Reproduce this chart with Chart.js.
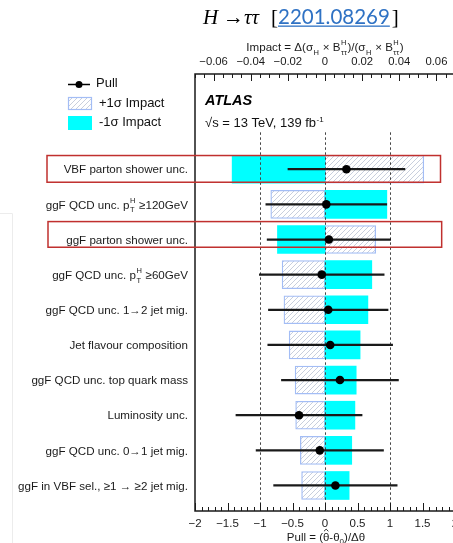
<!DOCTYPE html>
<html>
<head>
<meta charset="utf-8">
<style>
  html, body { margin: 0; padding: 0; background: #fff; overflow: hidden; width: 453px; height: 543px; }
  canvas { display: block; }
</style>
<script src="https://cdn.jsdelivr.net/npm/chart.js@4/dist/chart.umd.min.js"></script>
</head>
<body>
<canvas id="rank" width="480" height="543"></canvas>
<script>
// Nuisance parameters, ranked from the top of the plot downwards.
// "_{..}^{..}" marks a subscript / superscript pair in a label.
const categories = [
  'VBF parton shower unc.',
  'ggF QCD unc. p_{T}^{H} ≥120GeV',
  'ggF parton shower unc.',
  'ggF QCD unc. p_{T}^{H} ≥60GeV',
  'ggF QCD unc. 1→2 jet mig.',
  'Jet flavour composition',
  'ggF QCD unc. top quark mass',
  'Luminosity unc.',
  'ggF QCD unc. 0→1 jet mig.',
  'ggF in VBF sel., ≥1 → ≥2 jet mig.'
];

// Pull (θ̂-θ0)/Δθ and its uncertainty
const pull    = [0.33, 0.02, 0.06, -0.05, 0.05, 0.08, 0.23, -0.40, -0.08, 0.16];
const pullErr = [0.90, 0.93, 0.95, 0.96, 0.92, 0.96, 0.90, 0.97, 0.98, 0.95];

// Impact on σ_H × B(H→ττ) for +1σ and -1σ variations
const impactUp   = [0.0532, -0.0292, 0.0273, -0.0231, -0.0221, -0.0193, -0.0161, -0.0158, -0.0133, -0.0126];
const impactDown = [-0.0500, 0.0333, -0.0256, 0.0252, 0.0231, 0.0189, 0.0168, 0.0161, 0.0144, 0.0130];

// Axis ticks
const pullTicks = [-2, -1.5, -1, -0.5, 0, 0.5, 1, 1.5, 2];
const pullTickLabels = ['\u22122', '\u22121.5', '\u22121', '\u22120.5', '0', '0.5', '1', '1.5', '2'];
const impactTicks = [-0.06, -0.04, -0.02, 0, 0.02, 0.04, 0.06];
const impactTickLabels = ['\u22120.06', '\u22120.04', '\u22120.02', '0', '0.02', '0.04', '0.06'];

// Rows boxed in red
const highlighted = ['VBF parton shower unc.', 'ggF parton shower unc.'];

const SANS = '"Liberation Sans", Arial, Helvetica, sans-serif';
const SERIF = '"Liberation Serif", "Times New Roman", serif';
Chart.defaults.font.family = SANS;

const rowOf = i => categories.length - 1 - i;

// Diagonal hatch for the +1σ impact boxes
function makeHatch() {
  const s = 5;
  const c = document.createElement('canvas');
  c.width = s; c.height = s;
  const g = c.getContext('2d');
  g.fillStyle = '#ffffff';
  g.fillRect(0, 0, s, s);
  g.strokeStyle = '#c8cfdd';
  g.lineWidth = 1;
  g.beginPath();
  g.moveTo(0, s); g.lineTo(s, 0);
  g.moveTo(-1, 1); g.lineTo(1, -1);
  g.moveTo(s - 1, s + 1); g.lineTo(s + 1, s - 1);
  g.stroke();
  return g.createPattern(c, 'repeat');
}
const hatch = makeHatch();
const HATCH_BORDER = '#a3bdf5';
const CYAN = '#00ffff';

// Text with sub/superscripts
function richTokens(s) {
  const re = /_\{([^}]*)\}(?:\^\{([^}]*)\})?|\^\{([^}]*)\}/g;
  const out = []; let last = 0, m;
  while ((m = re.exec(s))) {
    if (m.index > last) out.push({ text: s.slice(last, m.index) });
    if (m[1] !== undefined) out.push({ sub: m[1], sup: m[2] });
    else out.push({ sup: m[3] });
    last = re.lastIndex;
  }
  if (last < s.length) out.push({ text: s.slice(last) });
  return out;
}
function drawRich(ctx, s, x, y, o) {
  const size = o.size, small = o.small || size * 0.68;
  const fam = o.family || SANS;
  const main = `${o.style || 'normal'} ${o.weight || 'normal'} ${size}px ${fam}`;
  const sm = `${o.style || 'normal'} ${o.weight || 'normal'} ${small}px ${fam}`;
  const toks = richTokens(s);
  let w = 0;
  toks.forEach(t => {
    if (t.text !== undefined) { ctx.font = main; t.w = ctx.measureText(t.text).width; }
    else {
      ctx.font = sm;
      t.w = Math.max(t.sub ? ctx.measureText(t.sub).width : 0, t.sup ? ctx.measureText(t.sup).width : 0) + 1;
    }
    w += t.w;
  });
  let cx = o.align === 'right' ? x - w : o.align === 'center' ? x - w / 2 : x;
  ctx.fillStyle = o.color || '#111';
  ctx.textAlign = 'left';
  ctx.textBaseline = 'alphabetic';
  const base = y + size * 0.36;
  toks.forEach(t => {
    if (t.text !== undefined) { ctx.font = main; ctx.fillText(t.text, cx, base); }
    else {
      ctx.font = sm;
      if (t.sup) ctx.fillText(t.sup, cx + 0.5, base - size * (t.sub ? 0.5 : 0.42));
      if (t.sub) ctx.fillText(t.sub, cx + 0.5, base + size * 0.32);
    }
    cx += t.w;
  });
  return w;
}

const decor = {
  id: 'decor',
  beforeDatasetDraw(chart, args) {
    // dashed guides at pull = -1, 0, 1, above the impact boxes
    if (args.meta.label !== 'Pull error') return;
    const { ctx, chartArea, scales } = chart;
    const yTop = scales.y.getPixelForValue(categories.length + 0.05);
    ctx.save();
    ctx.strokeStyle = '#444';
    ctx.lineWidth = 1;
    ctx.setLineDash([2.5, 2.5]);
    [-1, 0, 1].forEach(v => {
      const px = Math.round(scales.x.getPixelForValue(v)) + 0.5;
      ctx.beginPath();
      ctx.moveTo(px, yTop);
      ctx.lineTo(px, chartArea.bottom);
      ctx.stroke();
    });
    ctx.restore();
  },
  afterDraw(chart) {
    const { ctx, chartArea: a, scales } = chart;
    const xs = scales.x, x2 = scales.x2, ys = scales.y;
    ctx.save();

    // faint edge of a neighbouring panel
    ctx.strokeStyle = '#ececec';
    ctx.lineWidth = 1;
    ctx.beginPath();
    ctx.moveTo(0, 213.5); ctx.lineTo(12.5, 213.5); ctx.lineTo(12.5, 543);
    ctx.stroke();

    // frame
    ctx.strokeStyle = '#1a1a1a';
    ctx.lineWidth = 1.5;
    ctx.beginPath();
    ctx.moveTo(a.right + 2, a.top); ctx.lineTo(a.left, a.top);
    ctx.lineTo(a.left, a.bottom); ctx.lineTo(a.right + 2, a.bottom);
    ctx.stroke();

    // inward tick marks
    ctx.lineWidth = 1;
    ctx.beginPath();
    for (let k = -20; k <= 20; k++) {
      const v = k / 10;
      const px = Math.round(xs.getPixelForValue(v)) + 0.5;
      const len = (k % 5 === 0) ? 8 : 4;
      ctx.moveTo(px, a.bottom); ctx.lineTo(px, a.bottom - len);
    }
    for (let k = -14; k <= 14; k++) {
      const v = k * 0.005;
      const px = Math.round(x2.getPixelForValue(v)) + 0.5;
      const len = (k % 4 === 0) ? 7 : 4;
      ctx.moveTo(px, a.top); ctx.lineTo(px, a.top + len);
    }
    ctx.stroke();

    // category labels
    categories.forEach((c, i) => {
      drawRich(ctx, c, a.left - 7, ys.getPixelForValue(rowOf(i)), { size: 11.6, small: 7.5, align: 'right', color: '#1a1a1a' });
    });

    // axis titles
    const xc = xs.getPixelForValue(0);
    drawRich(ctx, 'Impact = \u0394(\u03c3_{H} \u00d7 B_{\u03c4\u03c4}^{H})/(\u03c3_{H} \u00d7 B_{\u03c4\u03c4}^{H})', xc, 47, { size: 11.6, small: 7.5, align: 'center', color: '#1a1a1a' });

    // Pull = (θ̂-θ0)/Δθ
    {
      const size = 11.5, y = 537 + size * 0.36;
      const f = `${size}px ${SANS}`, fs = `${size * 0.7}px ${SANS}`;
      ctx.font = f;
      const p1 = 'Pull = (', p2 = '\u03b8', p3 = '-\u03b8', p4 = '0', p5 = ')/\u0394\u03b8';
      const w1 = ctx.measureText(p1).width, w2 = ctx.measureText(p2).width, w3 = ctx.measureText(p3).width, w5 = ctx.measureText(p5).width;
      ctx.font = fs; const w4 = ctx.measureText(p4).width;
      let cx = xc + 1 - (w1 + w2 + w3 + w4 + w5) / 2;
      ctx.fillStyle = '#1a1a1a'; ctx.textAlign = 'left'; ctx.textBaseline = 'alphabetic';
      ctx.font = f; ctx.fillText(p1, cx, y); cx += w1;
      ctx.fillText(p2, cx, y);
      // hat over theta
      ctx.strokeStyle = '#1a1a1a'; ctx.lineWidth = 0.9;
      ctx.beginPath();
      ctx.moveTo(cx + 1, y - size * 0.86);
      ctx.lineTo(cx + w2 / 2, y - size * 1.04);
      ctx.lineTo(cx + w2 - 1, y - size * 0.86);
      ctx.stroke();
      cx += w2;
      ctx.font = f; ctx.fillText(p3, cx, y); cx += w3;
      ctx.font = fs; ctx.fillText(p4, cx, y + 2.5); cx += w4;
      ctx.font = f; ctx.fillText(p5, cx, y);
    }

    // ATLAS label
    ctx.fillStyle = '#000';
    ctx.font = `italic bold 14.5px ${SANS}`;
    ctx.textBaseline = 'alphabetic';
    ctx.fillText('ATLAS', a.left + 10, 105);
    drawRich(ctx, '\u221as = 13 TeV, 139 fb^{-1}', a.left + 10, 122.5, { size: 13, small: 8, color: '#111' });

    // legend
    {
      const lx = 68, lw = 24;
      ctx.strokeStyle = '#000'; ctx.lineWidth = 1.5;
      ctx.beginPath(); ctx.moveTo(lx, 84.5); ctx.lineTo(lx + 22, 84.5); ctx.stroke();
      ctx.fillStyle = '#000';
      ctx.beginPath(); ctx.arc(lx + 11, 84.5, 3.5, 0, Math.PI * 2); ctx.fill();
      ctx.fillStyle = hatch; ctx.fillRect(lx, 97, lw, 13);
      ctx.strokeStyle = HATCH_BORDER; ctx.lineWidth = 1.2; ctx.strokeRect(lx + 0.5, 97.5, lw - 1, 12);
      ctx.fillStyle = CYAN; ctx.fillRect(lx, 116, lw, 14);
      const lf = { size: 13, color: '#111' };
      drawRich(ctx, 'Pull', 96, 82, lf);
      drawRich(ctx, '+1\u03c3 Impact', 99, 102.5, lf);
      drawRich(ctx, '-1\u03c3 Impact', 99, 121.5, lf);
    }

    // title with reference
    {
      const fs = 21, base = 23.5;
      ctx.textBaseline = 'alphabetic'; ctx.textAlign = 'left';
      const put = (t, x, font, color) => { ctx.font = font; ctx.fillStyle = color || '#000'; ctx.fillText(t, x, base); return ctx.measureText(t).width; };
      put('H', 203, `italic ${fs}px ${SERIF}`);
      put('\u2192', 223, `${fs}px ${SERIF}`);
      put('\u03c4\u03c4', 244, `italic ${fs}px ${SERIF}`);
      put('[', 271, `${fs}px ${SERIF}`);
      const w = put('2201.08269', 278, `20.5px Lato, "Open Sans", sans-serif`, '#2f72c4');
      ctx.fillRect(278, base + 2, w, 1.3);
      put(']', 278 + w + 2, `${fs}px ${SERIF}`);
    }

    // highlighted rows
    ctx.strokeStyle = '#c0302e';
    ctx.lineWidth = 1.5;
    const boxes = [{ top: 0.39, bottom: 0.37, right: 1.777 }, { top: 0.51, bottom: 0.22, right: 1.795 }];
    highlighted.forEach((name, k) => {
      const r = rowOf(categories.indexOf(name));
      const b = boxes[k];
      const yT = ys.getPixelForValue(r + b.top), yB = ys.getPixelForValue(r - b.bottom);
      const xL = a.left - 148 + k, xR = xs.getPixelForValue(b.right);
      ctx.strokeRect(xL, yT, xR - xL, yB - yT);
    });

    ctx.restore();
  }
};

new Chart(document.getElementById('rank'), {
  type: 'bar',
  data: {
    datasets: [
      {
        type: 'scatter', label: 'Pull', indexAxis: 'x',
        data: pull.map((p, i) => ({ x: p, y: rowOf(i) })),
        xAxisID: 'x', yAxisID: 'y',
        backgroundColor: '#000', borderColor: '#000', pointRadius: 4.3, borderWidth: 0,
        order: 0
      },
      {
        type: 'bar', label: 'Pull error', indexAxis: 'y',
        data: pull.map((p, i) => ({ x: [p - pullErr[i], p + pullErr[i]], y: rowOf(i) })),
        xAxisID: 'x', yAxisID: 'y',
        backgroundColor: '#1a1a1a', borderWidth: 0,
        barThickness: 1.6, maxBarThickness: 1.6, grouped: false,
        order: 1
      },
      {
        type: 'bar', label: '-1\u03c3 Impact', indexAxis: 'y',
        data: impactDown.map((v, i) => ({ x: [0, v], y: rowOf(i) })),
        xAxisID: 'x2', yAxisID: 'y',
        backgroundColor: CYAN, borderWidth: 0,
        barThickness: 28, maxBarThickness: 28, grouped: false,
        order: 2
      },
      {
        type: 'bar', label: '+1\u03c3 Impact', indexAxis: 'y',
        data: impactUp.map((v, i) => ({ x: [0, v], y: rowOf(i) })),
        xAxisID: 'x2', yAxisID: 'y',
        backgroundColor: hatch, borderColor: HATCH_BORDER, borderWidth: 1.3, borderSkipped: false,
        barThickness: 28, maxBarThickness: 28, grouped: false,
        order: 3
      }
    ]
  },
  options: {
    responsive: false,
    maintainAspectRatio: false,
    animation: false,
    events: [],
    devicePixelRatio: 1,
    layout: { padding: { left: 195, right: 25, top: 0, bottom: 0 } },
    plugins: { legend: { display: false }, tooltip: { enabled: false } },
    scales: {
      x: {
        type: 'linear', axis: 'x', position: 'bottom', min: -2, max: 2, offset: false,
        afterBuildTicks: s => { s.ticks = pullTicks.map(v => ({ value: v })); },
        afterFit: s => { s.height = 32; },
        grid: { display: false, drawTicks: false, offset: false },
        border: { display: false },
        ticks: {
          autoSkip: false, maxRotation: 0, padding: 6, color: '#1a1a1a', font: { size: 11.5 },
          callback: v => pullTickLabels[pullTicks.indexOf(v)]
        }
      },
      x2: {
        type: 'linear', axis: 'x', position: 'top', min: -0.07, max: 0.07, offset: false,
        afterBuildTicks: s => { s.ticks = impactTicks.map(v => ({ value: v })); },
        afterFit: s => { s.height = 74; },
        grid: { display: false, drawTicks: false, offset: false },
        border: { display: false },
        ticks: {
          autoSkip: false, maxRotation: 0, padding: 5, color: '#1a1a1a', font: { size: 11.3 },
          callback: v => impactTickLabels[impactTicks.findIndex(t => Math.abs(t - v) < 1e-9)]
        }
      },
      y: {
        type: 'linear', axis: 'y', display: false, min: -0.726, max: 11.71, offset: false,
        grid: { offset: false }
      }
    }
  },
  plugins: [decor]
});
</script>
</body>
</html>
